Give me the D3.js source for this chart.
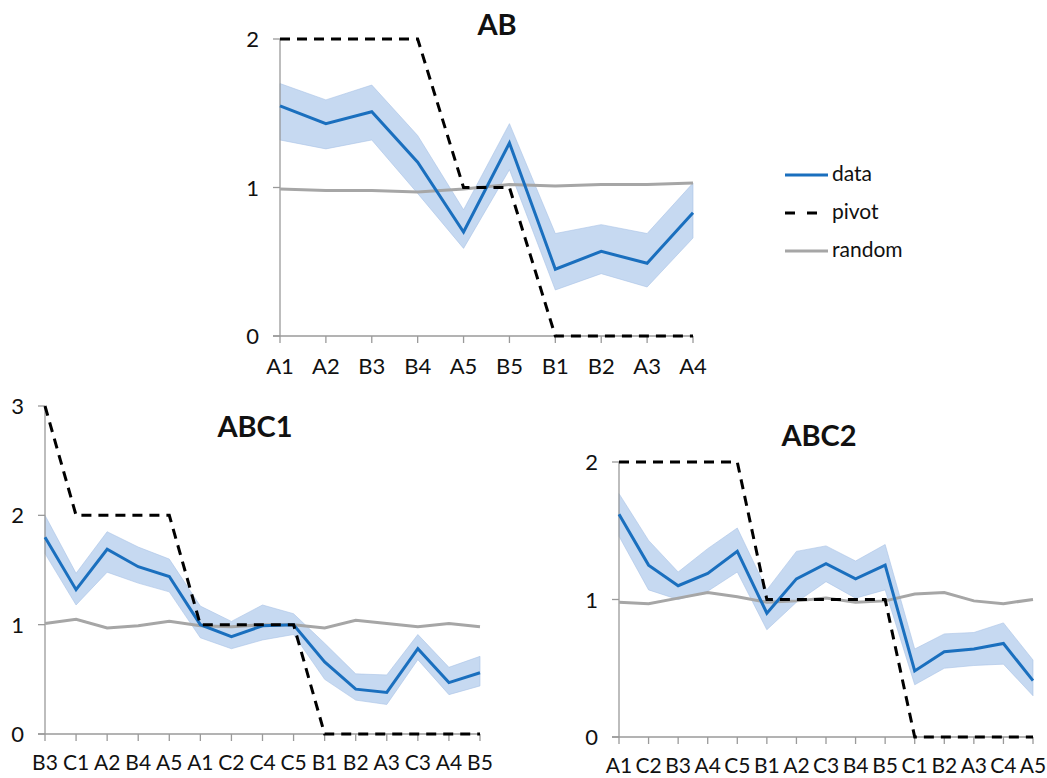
<!DOCTYPE html>
<html>
<head>
<meta charset="utf-8">
<script src="https://cdn.jsdelivr.net/npm/d3@7"></script>
<style>
  body { margin: 0; background: #fff; }
  text { font-family: Lato, "Open Sans", sans-serif; fill: #111; }
</style>
</head>
<body>
<script>
// ---- data ----
const abCats   = ['A1','A2','B3','B4','A5','B5','B1','B2','A3','A4'];
const abData   = [1.55, 1.43, 1.51, 1.17, 0.70, 1.30, 0.45, 0.57, 0.49, 0.83];
const abUpper  = [1.70, 1.59, 1.69, 1.35, 0.85, 1.43, 0.69, 0.75, 0.69, 1.03];
const abLower  = [1.32, 1.26, 1.32, 0.96, 0.59, 1.12, 0.31, 0.42, 0.33, 0.66];
const abPivot  = [2, 2, 2, 2, 1, 1, 0, 0, 0, 0];
const abRandom = [0.99, 0.98, 0.98, 0.97, 0.99, 1.02, 1.01, 1.02, 1.02, 1.03];

const c1Cats   = ['B3','C1','A2','B4','A5','A1','C2','C4','C5','B1','B2','A3','C3','A4','B5'];
const c1Data   = [1.80, 1.32, 1.69, 1.53, 1.44, 1.00, 0.89, 0.99, 1.00, 0.66, 0.41, 0.38, 0.78, 0.47, 0.56];
const c1Upper  = [2.00, 1.47, 1.85, 1.71, 1.60, 1.17, 1.03, 1.18, 1.10, 0.83, 0.55, 0.54, 0.91, 0.61, 0.71];
const c1Lower  = [1.65, 1.18, 1.48, 1.38, 1.30, 0.88, 0.78, 0.86, 0.91, 0.50, 0.31, 0.27, 0.68, 0.36, 0.44];
const c1Pivot  = [3, 2, 2, 2, 2, 1, 1, 1, 1, 0, 0, 0, 0, 0, 0];
const c1Random = [1.01, 1.05, 0.97, 0.99, 1.03, 0.99, 0.98, 1.00, 1.00, 0.97, 1.04, 1.01, 0.98, 1.01, 0.98];

const c2Cats   = ['A1','C2','B3','A4','C5','B1','A2','C3','B4','B5','C1','B2','A3','C4','A5'];
const c2Data   = [1.62, 1.25, 1.10, 1.19, 1.35, 0.90, 1.15, 1.26, 1.15, 1.25, 0.48, 0.62, 0.64, 0.68, 0.41];
const c2Upper  = [1.77, 1.43, 1.20, 1.37, 1.52, 1.07, 1.35, 1.39, 1.28, 1.40, 0.64, 0.75, 0.76, 0.83, 0.56];
const c2Lower  = [1.46, 1.07, 1.00, 1.06, 1.20, 0.78, 0.98, 1.13, 1.01, 1.07, 0.38, 0.50, 0.52, 0.53, 0.30];
const c2Pivot  = [2, 2, 2, 2, 2, 1, 1, 1, 1, 1, 0, 0, 0, 0, 0];
const c2Random = [0.98, 0.97, 1.01, 1.05, 1.02, 0.98, 0.99, 1.01, 0.98, 0.99, 1.04, 1.05, 0.99, 0.97, 1.00];

const legendLabels = ['data', 'pivot', 'random'];

// ---- styles ----
const blue = '#1a6fbe';
const band = '#c6d9f1';
const grey = '#a6a6a6';
const axisCol = '#9a9a9a';

const svg = d3.select('body').append('svg')
  .attr('width', 1047)
  .attr('height', 778);

function drawPanel(p) {
  const g = svg.append('g');
  const x = d3.scalePoint().domain(p.cats).range([p.left, p.right]);
  const y = d3.scaleLinear().domain([0, p.yMax]).range([p.bottom, p.top]);
  const idx = d3.range(p.cats.length);

  // band
  const area = d3.area()
    .x(i => x(p.cats[i]))
    .y0(i => y(p.lower[i]))
    .y1(i => y(p.upper[i]));
  g.append('path').datum(idx)
    .attr('d', area)
    .attr('fill', band)
    .attr('stroke', '#a9c3e6')
    .attr('stroke-width', 0.6);

  // y axis line
  g.append('line')
    .attr('x1', p.left).attr('x2', p.left)
    .attr('y1', y(p.yMax)).attr('y2', p.bottom)
    .attr('stroke', axisCol).attr('stroke-width', 1.3);
  // x axis line
  g.append('line')
    .attr('x1', p.left - 7).attr('x2', p.right)
    .attr('y1', p.bottom).attr('y2', p.bottom)
    .attr('stroke', axisCol).attr('stroke-width', 1.3);

  // y ticks
  const yt = d3.range(0, p.yMax + 1);
  g.selectAll('.ytick').data(yt).enter().append('line')
    .attr('x1', p.left - 7).attr('x2', p.left)
    .attr('y1', d => y(d)).attr('y2', d => y(d))
    .attr('stroke', axisCol).attr('stroke-width', 1.3);
  g.selectAll('.ylab').data(yt).enter().append('text')
    .attr('x', p.left - 21)
    .attr('y', d => y(d) + 8)
    .attr('text-anchor', 'end')
    .attr('font-size', 22)
    .text(d => d);

  // x ticks
  g.selectAll('.xtick').data(p.cats).enter().append('line')
    .attr('x1', d => x(d)).attr('x2', d => x(d))
    .attr('y1', p.bottom).attr('y2', p.bottom + 7)
    .attr('stroke', axisCol).attr('stroke-width', 1.3);
  g.selectAll('.xlab').data(p.cats).enter().append('text')
    .attr('x', d => x(d))
    .attr('y', p.bottom + p.labOff)
    .attr('text-anchor', 'middle')
    .attr('font-size', p.labSize)
    .text(d => d);

  const line = vals => d3.line()
    .x(i => x(p.cats[i]))
    .y(i => y(vals[i]))(idx);

  // random
  g.append('path').attr('d', line(p.random))
    .attr('fill', 'none').attr('stroke', grey).attr('stroke-width', 3);
  // data
  g.append('path').attr('d', line(p.data))
    .attr('fill', 'none').attr('stroke', blue).attr('stroke-width', 3);
  // pivot
  g.append('path').attr('d', line(p.pivot))
    .attr('fill', 'none').attr('stroke', '#000').attr('stroke-width', 3)
    .attr('stroke-dasharray', '10,7');

  // title
  g.append('text')
    .attr('x', p.titleX).attr('y', p.titleY)
    .attr('text-anchor', 'middle')
    .attr('font-size', 29)
    .attr('font-weight', 'bold')
    .text(p.title);
}

drawPanel({
  cats: abCats, data: abData, upper: abUpper, lower: abLower, pivot: abPivot, random: abRandom,
  yMax: 2, left: 280, right: 693, top: 39, bottom: 336,
  labOff: 38, labSize: 22, title: 'AB', titleX: 497, titleY: 35
});
drawPanel({
  cats: c1Cats, data: c1Data, upper: c1Upper, lower: c1Lower, pivot: c1Pivot, random: c1Random,
  yMax: 3, left: 45, right: 480, top: 406, bottom: 734,
  labOff: 36, labSize: 21, title: 'ABC1', titleX: 255, titleY: 437
});
drawPanel({
  cats: c2Cats, data: c2Data, upper: c2Upper, lower: c2Lower, pivot: c2Pivot, random: c2Random,
  yMax: 2, left: 619, right: 1033, top: 462, bottom: 737,
  labOff: 36, labSize: 21, title: 'ABC2', titleX: 819, titleY: 446
});

// legend
const legY = d3.scalePoint().domain(legendLabels).range([175, 251]);
const legStyle = {
  data:   {stroke: blue, dash: null},
  pivot:  {stroke: '#000', dash: '10,12'},
  random: {stroke: grey, dash: null}
};
const leg = svg.append('g');
leg.selectAll('line').data(legendLabels).enter().append('line')
  .attr('x1', 785).attr('x2', 828)
  .attr('y1', d => legY(d)).attr('y2', d => legY(d))
  .attr('stroke', d => legStyle[d].stroke)
  .attr('stroke-width', 3)
  .attr('stroke-dasharray', d => legStyle[d].dash);
leg.selectAll('text').data(legendLabels).enter().append('text')
  .attr('x', 832)
  .attr('y', d => legY(d) + 6)
  .attr('font-size', 21)
  .text(d => d);
</script>
</body>
</html>
